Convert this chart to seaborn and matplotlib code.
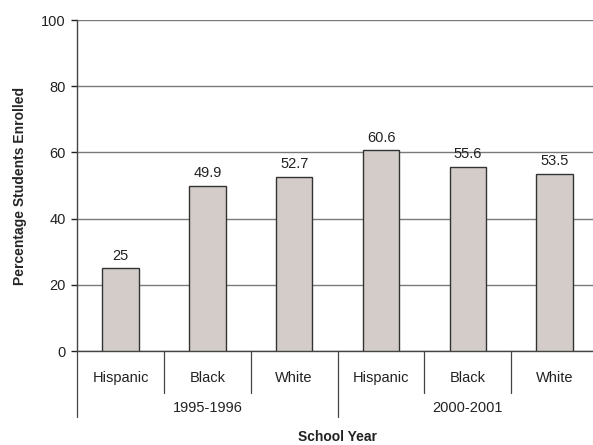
import matplotlib
matplotlib.use("Agg")
import matplotlib.pyplot as plt
import seaborn as sns
import pandas as pd
from matplotlib.transforms import blended_transform_factory

groups = ["1995-1996", "2000-2001"]
races = ["Hispanic", "Black", "White"]
values_1995 = [25, 49.9, 52.7]
values_2000 = [60.6, 55.6, 53.5]
value_labels = ["25", "49.9", "52.7", "60.6", "55.6", "53.5"]

df = pd.DataFrame({
    "group": [g for g in groups for _ in races],
    "race": races * 2,
    "value": values_1995 + values_2000,
})
df["pos"] = [f"{g}|{r}" for g, r in zip(df["group"], df["race"])]

sns.set_theme(style="white")
plt.rcParams["font.family"] = ["Liberation Sans", "DejaVu Sans"]

fig = plt.figure(figsize=(5.93, 4.45), dpi=100)
ax = fig.add_axes([0.130, 0.211, 0.8786, 0.744])

sns.barplot(data=df, x="pos", y="value", color="#d3ccc8", width=0.42,
            edgecolor="#333333", linewidth=1.0, saturation=1, ax=ax, zorder=3)

ax.set_ylim(0, 100)
ax.set_xlim(-0.5, 5.5)
ax.set_yticks([0, 20, 40, 60, 80, 100])
ax.tick_params(axis="y", labelsize=10.5, colors="#222222", length=4, width=1, left=True, pad=4)
ax.tick_params(axis="x", bottom=False, labelbottom=False)
ax.yaxis.grid(True, color="#7a7a7a", linewidth=1.0, zorder=0)
for s in ["top", "right"]:
    ax.spines[s].set_visible(False)
ax.spines["left"].set_color("#444444")
ax.spines["bottom"].set_color("#444444")
ax.spines["left"].set_linewidth(1.0)
ax.spines["bottom"].set_linewidth(1.0)
ax.set_xlabel("")
ax.set_ylabel("Percentage Students Enrolled", fontsize=10, fontweight="bold", labelpad=10)

for cont in ax.containers:
    ax.bar_label(cont, labels=value_labels, padding=4, fontsize=10.5, color="#222222")

trans = blended_transform_factory(ax.transData, ax.transAxes)
for i, r in enumerate(races * 2):
    ax.text(i, -0.082, r, transform=trans, ha="center", va="center", fontsize=10.5, color="#222222")
for b in [0.5, 1.5, 3.5, 4.5]:
    ax.plot([b, b], [0, -0.127], transform=trans, color="#444444", lw=0.9, clip_on=False)
for b in [-0.5, 2.5, 5.5]:
    ax.plot([b, b], [0, -0.20], transform=trans, color="#444444", lw=0.9, clip_on=False)
for j, g in enumerate(groups):
    ax.text(1 + 3 * j, -0.172, g, transform=trans, ha="center", va="center", fontsize=10.5, color="#222222")
ax.text(0.5, -0.258, "School Year", transform=ax.transAxes, ha="center", va="center",
        fontsize=10, fontweight="bold", color="#222222")

fig.savefig("out.png", dpi=100)
